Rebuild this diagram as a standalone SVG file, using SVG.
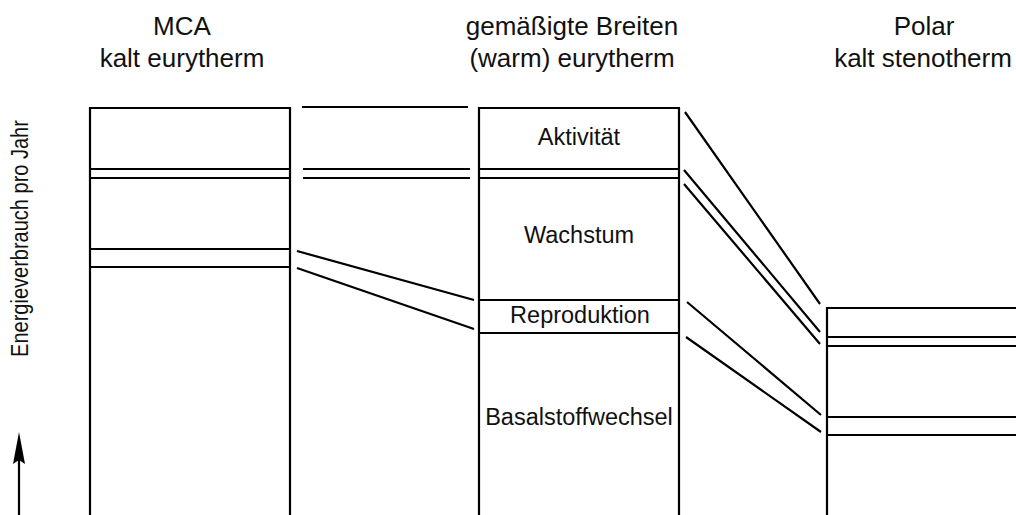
<svg xmlns="http://www.w3.org/2000/svg" width="1016" height="515" viewBox="0 0 1016 515">
<style>
.ln{stroke:#000;stroke-width:2.2;fill:none;stroke-linecap:butt}
.hd{font-family:"Liberation Sans",Arial,sans-serif;font-size:26px;fill:#111;text-anchor:middle}
.lb{font-family:"Liberation Sans",Arial,sans-serif;font-size:23.5px;fill:#111;text-anchor:middle}
.ax{font-family:"Liberation Sans",Arial,sans-serif;font-size:20px;fill:#111;text-anchor:middle}
</style>
<rect width="1016" height="515" fill="#fff"/>
<g id="header-mca">
<text class="hd" x="182" y="35">MCA</text>
<text class="hd" x="182" y="67">kalt eurytherm</text>
</g>
<g id="header-temperate">
<text class="hd" x="572" y="35">gemäßigte Breiten</text>
<text class="hd" x="572" y="67">(warm) eurytherm</text>
</g>
<g id="header-polar">
<text class="hd" x="924" y="35">Polar</text>
<text class="hd" x="923" y="67">kalt stenotherm</text>
</g>
<g id="node-mca">
<path class="ln" d="M90,516 V108 H290 V516"/>
<path class="ln" d="M90,169 H290 M90,178 H290 M90,249 H290 M90,267 H290"/>
</g>
<g id="node-temperate">
<path class="ln" d="M479,516 V108 H679 V516"/>
<path class="ln" d="M479,169 H679 M479,178 H679 M479,300 H679 M479,333 H679"/>
<text class="lb" x="579" y="145">Aktivität</text>
<text class="lb" x="579" y="243">Wachstum</text>
<text class="lb" x="580" y="323">Reproduktion</text>
<text class="lb" x="579" y="425">Basalstoffwechsel</text>
</g>
<g id="node-polar">
<path class="ln" d="M827,516 V308 H1017"/>
<path class="ln" d="M827,337 H1017 M827,346 H1017 M827,417 H1017 M827,435 H1017"/>
</g>
<g id="connectors">
<path class="ln" d="M302,107 H468"/>
<path class="ln" d="M303,169 H470 M303,178 H470"/>
<path class="ln" d="M297,251 L474,300 M297,268 L474,329"/>
<path class="ln" d="M685,112 L820,304 M684,170 L820,332 M684,184 L820,344"/>
<path class="ln" d="M687,302 L821,415 M686,337 L821,432"/>
</g>
<g id="axis">
<line class="ln" x1="19" y1="460" x2="19" y2="516"/>
<path d="M19,432 L25,464 L19,460 L13,464 Z" fill="#000"/>
<text class="ax" transform="translate(28,238.5) rotate(-90) scale(1,1.15)">Energieverbrauch pro Jahr</text>
</g>
</svg>
